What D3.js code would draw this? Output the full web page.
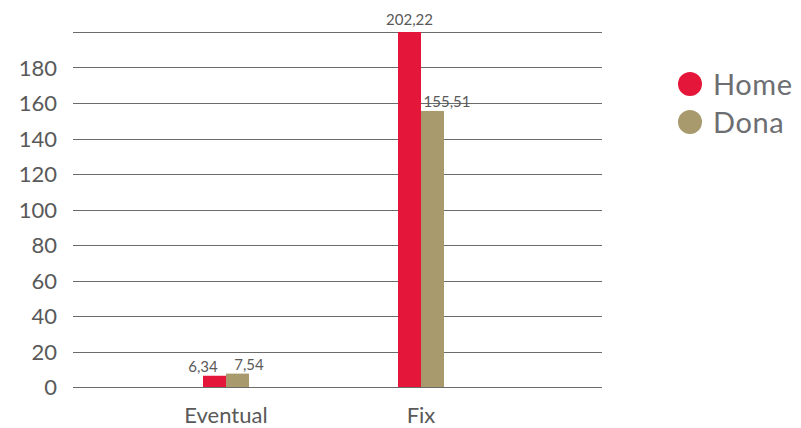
<!DOCTYPE html>
<html><head><meta charset="utf-8">
<script src="https://cdn.jsdelivr.net/npm/d3@7"></script>
<style>body{margin:0;background:#fff}svg{display:block;font-family:Lato,"Open Sans",sans-serif}</style>
</head><body><svg id="c" width="801" height="428"></svg>
<script>
const categories = ["Eventual", "Fix"];
const seriesNames = ["Home", "Dona"];
const home = [6.34, 202.22];
const dona = [7.54, 155.51];
const yTicks = [0, 20, 40, 60, 80, 100, 120, 140, 160, 180, 200];
const colors = ["#E4173A", "#A89A6C"];
const fmt = v => d3.format(".2f")(v).replace(".", ",");

(function () {
const svg = d3.select("#c");
const pLeft = 73, pRight = 602, pTop = 32, pBottom = 387;
const y = d3.scaleLinear().domain([0, 200]).range([pBottom, pTop]);
const x = d3.scaleBand().domain(categories).range([128.5, 518.5]);
const xs = d3.scaleBand().domain(seriesNames).range([-23, 23]);

svg.append("g").selectAll("line").data(yTicks).join("line")
  .attr("x1", pLeft).attr("x2", pRight)
  .attr("y1", d => Math.round(y(d)) + 0.5).attr("y2", d => Math.round(y(d)) + 0.5)
  .attr("stroke", "#6b6b6b").attr("stroke-width", 1);

svg.append("g").selectAll("text").data(yTicks.filter(d => d < 200)).join("text")
  .attr("x", 57).attr("y", d => y(d) + 8)
  .attr("text-anchor", "end").attr("font-size", 22).attr("fill", "#595959")
  .text(d => d);

const data = [];
categories.forEach((c, i) => {
  [home, dona].forEach((s, j) => data.push({c, i, j, s: seriesNames[j], v: s[i], col: colors[j]}));
});

const clip = v => Math.min(v, 200);
const bx = d => x(d.c) + x.bandwidth() / 2 + xs(d.s);
svg.append("g").selectAll("rect").data(data).join("rect")
  .attr("x", bx)
  .attr("width", xs.bandwidth())
  .attr("y", d => y(clip(d.v)))
  .attr("height", d => y(0) - y(clip(d.v)))
  .attr("fill", d => d.col);

// label horizontal placement (fraction of bar width + px nudge), avoids overlaps as in reference
const labelPos = [[[0, 0], [1, 0]], [[0.5, 0], [1, 3]]];
svg.append("g").selectAll("text").data(data).join("text")
  .attr("x", d => bx(d) + xs.bandwidth() * labelPos[d.i][d.j][0] + labelPos[d.i][d.j][1])
  .attr("y", d => y(clip(d.v)) - (d.v > 200 ? 7 : 4))
  .attr("text-anchor", "middle").attr("font-size", 15).attr("fill", "#595959")
  .text(d => fmt(d.v));

svg.append("g").selectAll("text").data(categories).join("text")
  .attr("x", d => x(d) + x.bandwidth() / 2).attr("y", 423)
  .attr("text-anchor", "middle").attr("font-size", 22).attr("fill", "#595959")
  .text(d => d);

const lg = svg.append("g").selectAll("g").data(seriesNames).join("g")
  .attr("transform", (d, i) => `translate(690,${84 + i * 38})`);
lg.append("circle").attr("r", 12).attr("fill", (d, i) => colors[i]);
lg.append("text").attr("x", 23).attr("y", 11).attr("font-size", 29)
  .attr("letter-spacing", 0.6).attr("fill", "#6d6e71").text(d => d);
})();
</script></body></html>
